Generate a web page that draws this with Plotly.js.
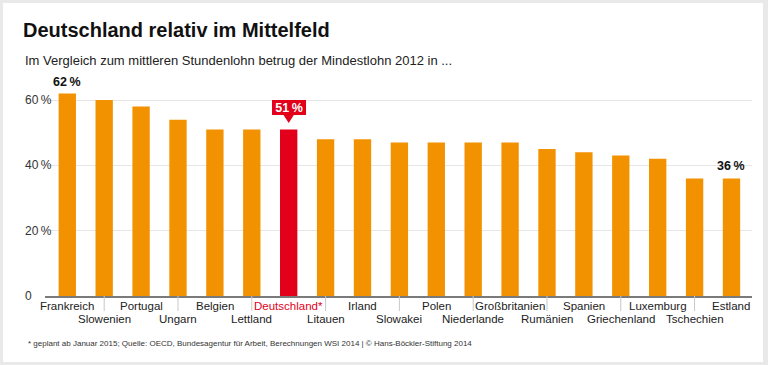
<!DOCTYPE html>
<html>
<head>
<meta charset="utf-8">
<script src="https://cdn.plot.ly/plotly-3.0.1.min.js"></script>
<style>
  html, body { margin: 0; padding: 0; background: #e9e9e9; width: 768px; height: 365px; overflow: hidden; }
  #chart { position: absolute; left: 3px; top: 3px; width: 760px; height: 359px; background: #fff; }
</style>
</head>
<body>
<div id="chart"></div>
<script>
const categories = ["Frankreich","Slowenien","Portugal","Ungarn","Belgien","Lettland","Deutschland*","Litauen","Irland","Slowakei","Polen","Niederlande","Großbritanien","Rumänien","Spanien","Griechenland","Luxemburg","Tschechien","Estland"];
const values = [62,60,58,54,51,51,51,48,48,47,47,47,47,45,44,43,42,36,36];
const highlight = "Deutschland*";
const yTickVals = [0,20,40,60];
const yTickText = ["0","20\u2009%","40\u2009%","60\u2009%"];
const titleText = "Deutschland relativ im Mittelfeld";
const subtitleText = "Im Vergleich zum mittleren Stundenlohn betrug der Mindestlohn 2012 in ...";
const footnoteText = "* geplant ab Januar 2015; Quelle: OECD, Bundesagentur für Arbeit, Berechnungen WSI 2014 | © Hans-Böckler-Stiftung 2014";

const ORANGE = "#F39200", RED = "#E2001A";
const FONT = "Liberation Sans, Arial, sans-serif";
const idx = categories.map((_, i) => i);
const hiIdx = categories.indexOf(highlight);

const trace = {
  type: "bar",
  x: idx,
  y: values,
  width: 0.47,
  marker: { color: categories.map(c => c === highlight ? RED : ORANGE) },
  hoverinfo: "skip"
};

const annotations = [];
// y tick labels (left aligned)
yTickVals.forEach((v, i) => {
  annotations.push({ xref: "paper", yref: "y", x: 0, y: v, xshift: -22, xanchor: "left", yanchor: "middle",
    text: yTickText[i], showarrow: false, font: { family: FONT, size: 12, color: "#333" } });
});
// category labels, two rows
categories.forEach((c, i) => {
  annotations.push({ xref: "x", yref: "y", x: i, y: 0, yshift: (i % 2 === 0) ? -9.5 : -22.5,
    xanchor: "center", yanchor: "middle", text: c, showarrow: false,
    font: { family: FONT, size: 11.5, color: c === highlight ? RED : "#222" } });
});
// value labels: first and last
[0, categories.length - 1].forEach(i => {
  annotations.push({ xref: "x", yref: "y", x: i, y: values[i], yanchor: "bottom", yshift: 3,
    text: values[i] + "\u2009%", showarrow: false, font: { family: FONT, size: 12.5, color: "#111", weight: "bold" } });
});
// highlight bubble
annotations.push({ xref: "x", yref: "y", x: hiIdx, y: values[hiIdx], yanchor: "bottom", yshift: 14.5,
  text: "<b>" + values[hiIdx] + "\u2009%</b>", showarrow: false, bgcolor: RED, borderpad: 1.5, borderwidth: 0,
  width: 31, height: 12, font: { family: FONT, size: 12.5, color: "#fff" } });
// subtitle
annotations.push({ xref: "paper", yref: "paper", x: 0, y: 1, xshift: -22, yshift: 27, xanchor: "left", yanchor: "middle",
  text: subtitleText, showarrow: false, font: { family: FONT, size: 13, color: "#222" } });
// footnote
annotations.push({ xref: "paper", yref: "paper", x: 0, y: 0, xshift: -19, yshift: -47, xanchor: "left", yanchor: "middle",
  text: footnoteText, showarrow: false, font: { family: FONT, size: 8, color: "#333" } });

const shapes = [];
// separators at odd categories
idx.filter(i => i % 2 === 1).forEach(i => {
  shapes.push({ type: "line", xref: "x", yref: "paper", x0: i, x1: i, y0: 0, y1: -15 / 209,
    line: { color: "#c8c8c8", width: 1 } });
});
// bubble pointer
shapes.push({ type: "path", xref: "x", yref: "y", xsizemode: "pixel", ysizemode: "pixel",
  xanchor: hiIdx, yanchor: values[hiIdx], path: "M -5.5 15 L 5.5 15 L 0 6.5 Z",
  fillcolor: RED, line: { width: 0 } });

const layout = {
  width: 760, height: 359,
  margin: { l: 42, r: 11, t: 84, b: 66 },
  paper_bgcolor: "#fff", plot_bgcolor: "#fff",
  showlegend: false,
  font: { family: FONT },
  title: { text: titleText, xref: "container", yref: "container", x: 20 / 760, xanchor: "left",
    y: 1 - 27 / 359, yanchor: "middle", font: { family: FONT, size: 20, color: "#111", weight: "bold" } },
  xaxis: { range: [-0.604, 18.556], showticklabels: false, showgrid: false, zeroline: false,
    showline: true, linecolor: "#7a7a7a", linewidth: 1.5, ticks: "", fixedrange: true },
  yaxis: { range: [0, 64], tickvals: yTickVals.slice(1), showticklabels: false, showgrid: true,
    gridcolor: "#e6e6e6", gridwidth: 1, zeroline: false, showline: false, ticks: "", fixedrange: true },
  annotations: annotations,
  shapes: shapes
};

Plotly.newPlot("chart", [trace], layout, { displayModeBar: false, staticPlot: true });
</script>
</body>
</html>
